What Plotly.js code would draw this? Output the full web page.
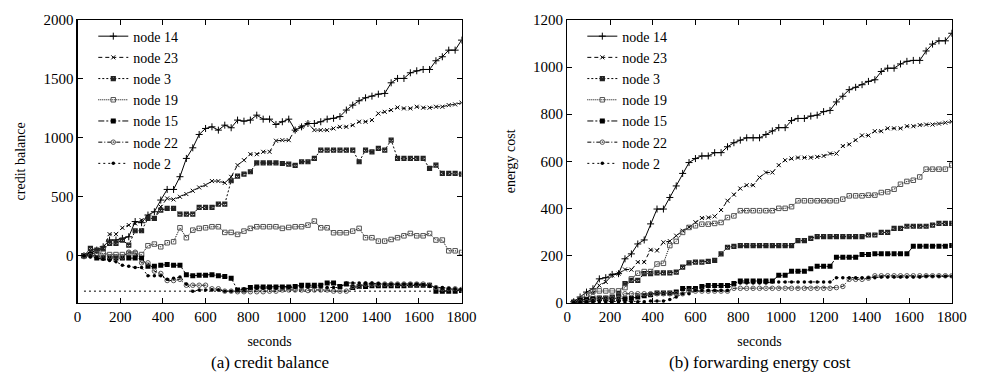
<!DOCTYPE html>
<html><head><meta charset="utf-8">
<script src="https://cdn.plot.ly/plotly-3.0.1.min.js"></script>
<style>html,body{margin:0;padding:0;background:#fff}#chart{width:982px;height:374px}
#chart text{font-family:"Liberation Serif" !important;}</style>
</head><body><div id="chart"></div>
<script>
// sample times (seconds)
const seconds = [30,60,90,120,150,180,210,240,270,300,330,360,390,420,450,480,510,540,570,600,630,660,690,720,750,780,810,840,870,900,930,960,990,1020,1050,1080,1110,1140,1170,1200,1230,1260,1290,1320,1350,1380,1410,1440,1470,1500,1530,1560,1590,1620,1650,1680,1710,1740,1770,1800];
const nodeNames = ["node 14","node 23","node 3","node 19","node 15","node 22","node 2"];

// (a) credit balance
const credit14 = [0,20,48,76,133,133,147,161,290,280,345,373,472,562,562,670,825,915,1028,1079,1093,1065,1107,1085,1150,1141,1150,1192,1158,1158,1113,1136,1158,1065,1093,1121,1121,1136,1158,1165,1180,1235,1277,1314,1339,1353,1370,1376,1466,1503,1503,1551,1568,1579,1579,1653,1687,1743,1743,1828];
const credit23 = [0,30,40,60,183,183,237,260,274,302,330,316,415,486,477,500,523,551,579,599,633,633,618,669,768,810,861,861,881,881,975,980,980,1065,1093,1121,1065,1065,1065,1079,1093,1093,1107,1136,1136,1150,1206,1220,1235,1257,1249,1249,1263,1255,1255,1263,1263,1277,1283,1297];
const credit3 = [0,62,48,62,105,105,133,90,212,212,316,316,387,401,401,353,353,353,410,410,410,438,438,636,675,692,712,788,788,788,788,782,777,766,797,797,825,895,895,895,895,895,895,797,895,881,910,895,980,825,825,825,825,825,740,768,698,698,698,692];
const credit19 = [0,10,20,20,10,10,10,20,20,10,85,99,76,110,119,237,153,217,232,237,246,246,198,198,181,209,232,246,246,246,246,232,240,246,246,260,294,237,237,195,195,195,209,232,153,153,124,124,138,153,169,189,169,169,189,133,133,42,42,28];
const credit15 = [0,10,-20,-20,-20,-20,-20,-20,-20,-20,-90,-90,-80,-75,-80,-80,-160,-170,-165,-165,-160,-170,-175,-190,-290,-290,-270,-265,-265,-265,-265,-265,-265,-260,-250,-250,-250,-250,-230,-230,-260,-240,-270,-260,-260,-255,-255,-255,-255,-255,-255,-250,-250,-250,-250,-300,-300,-300,-300,-295];
const credit22 = [0,0,0,-10,-10,-10,-10,30,30,-60,-60,-130,-150,-210,-210,-200,-250,-250,-250,-250,-280,-280,-300,-300,-305,-305,-305,-305,-305,-300,-300,-290,-290,-290,-290,-295,-290,-290,-290,-300,-300,-300,-260,-260,-240,-240,-240,-240,-240,-240,-240,-240,-240,-240,-250,-270,-280,-280,-280,-285];
const credit2 = [0,-10,-20,-30,-40,-50,-80,-90,-100,-100,-170,-170,-170,-200,-190,-180,-240,-300,-290,-290,-290,-290,-300,-300,-290,-280,-275,-275,-275,-275,-275,-270,-270,-270,-265,-265,-265,-265,-270,-270,-270,-230,-230,-230,-230,-230,-235,-240,-240,-240,-240,-240,-240,-245,-260,-270,-270,-275,-280,-285];
const thresholdX = [30,1800];
const thresholdY = [-300,-300];

// (b) forwarding energy cost
const energy14 = [5,25,46,60,102,107,121,124,187,208,250,267,335,398,398,447,496,549,595,612,623,623,637,637,662,679,690,700,700,700,714,729,743,743,773,782,782,792,796,811,816,852,876,904,914,925,939,946,981,995,995,1013,1024,1028,1028,1068,1097,1111,1111,1143];
const energy23 = [0,10,20,40,74,89,117,124,142,141,173,173,225,222,257,262,285,306,321,342,360,362,367,394,433,459,485,499,499,532,553,553,584,605,612,616,616,616,619,623,633,633,665,672,690,710,710,728,728,740,740,740,749,749,754,756,756,760,764,768];
const energy3 = [0,5,10,15,20,20,25,40,82,96,96,124,124,127,127,127,131,152,170,173,173,176,180,208,236,240,243,243,243,243,243,243,243,243,243,264,264,274,281,281,281,281,281,281,281,281,288,288,299,299,316,316,325,325,325,325,330,337,337,337];
const energy19 = [0,15,30,49,51,51,51,51,65,102,126,133,133,165,168,243,261,299,320,327,334,334,337,341,362,369,391,391,391,391,391,391,401,401,408,433,433,433,433,433,433,433,440,454,454,454,457,457,468,471,482,503,515,520,534,567,567,567,567,584];
const energy15 = [4,11,14,18,18,18,18,18,18,20,25,30,35,42,42,42,46,61,61,61,70,74,74,74,74,82,93,93,93,93,93,93,117,117,134,134,134,145,155,155,155,194,194,194,194,205,205,208,208,208,208,208,208,240,240,240,240,240,240,243];
const energy22 = [0,3,5,10,20,20,20,20,39,39,39,39,39,39,39,39,39,39,50,50,50,50,50,50,50,62,62,62,62,62,62,62,62,62,62,62,62,62,62,62,62,65,70,100,100,100,105,115,115,115,115,115,115,115,115,115,115,115,115,115];
const energy2 = [2,5,5,5,5,5,5,5,5,5,5,5,8,8,8,15,25,39,39,53,53,53,53,53,53,85,85,85,85,85,85,89,89,89,89,89,89,89,89,89,89,107,107,107,107,107,107,107,110,110,110,110,110,110,110,113,113,113,113,113];

const styles = [
  {dash:"solid", symbol:"cross-thin", size:5, color:"#000", lw:1},
  {dash:"4px,3px", symbol:"x-thin", size:4, color:"#000", lw:1},
  {dash:"2px,2px", symbol:"square-x-open", size:4, color:"#222", lw:1.2},
  {dash:"1px,1px", symbol:"square-open", size:4.5, color:"#555", lw:1},
  {dash:"6px,2px,2px,2px", symbol:"square", size:5, color:"#000", lw:0},
  {dash:"4px,2px,1px,2px", symbol:"circle-open-dot", size:4.5, color:"#555", lw:1},
  {dash:"2px,3px", symbol:"circle", size:3.5, color:"#000", lw:0}
];
const creditSeries = [credit14,credit23,credit3,credit19,credit15,credit22,credit2];
const energySeries = [energy14,energy23,energy3,energy19,energy15,energy22,energy2];

const FONT = "Liberation Serif";
function fnt(size){ return {family:FONT, size:size, color:"#000"}; }
const traces = [];
creditSeries.forEach((ys,i)=>{
  const s = styles[i];
  traces.push({x:seconds, y:ys, name:nodeNames[i], type:"scatter", mode:"lines+markers",
    xaxis:"x", yaxis:"y", legend:"legend",
    line:{color:"#000", width:1, dash:s.dash},
    marker:{symbol:s.symbol, size:s.size, color:s.color, line:{color:s.color, width:s.lw}}});
});
traces.push({x:thresholdX, y:thresholdY, type:"scatter", mode:"lines", showlegend:false,
  xaxis:"x", yaxis:"y", line:{color:"#000", width:1, dash:"2px,3px"}, hoverinfo:"skip"});
energySeries.forEach((ys,i)=>{
  const s = styles[i];
  traces.push({x:seconds, y:ys, name:nodeNames[i], type:"scatter", mode:"lines+markers",
    xaxis:"x2", yaxis:"y2", legend:"legend2",
    line:{color:"#000", width:1, dash:s.dash},
    marker:{symbol:s.symbol, size:s.size, color:s.color, line:{color:s.color, width:s.lw}}});
});

function axis(extra){
  return Object.assign({showline:true, linecolor:"#000", linewidth:1.2, mirror:"ticks", ticks:"inside",
    ticklen:5, tickcolor:"#000", showgrid:false, zeroline:false, tickfont:{size:15, color:"#000"}}, extra);
}
function legendBox(x){
  return {font:fnt(14), bgcolor:"rgba(0,0,0,0)", borderwidth:0, tracegroupgap:0,
    xanchor:"left", yanchor:"top", itemwidth:30, x:x, y:0.945};
}

const layout = {
  width:982, height:374, margin:{l:0,r:0,t:0,b:0}, paper_bgcolor:"#fff", plot_bgcolor:"#fff",
  font:fnt(14),
  xaxis:axis({domain:[0.079,0.470], range:[0,1800], dtick:200, tick0:0, anchor:"y",
    title:{text:"seconds", font:{size:14}, standoff:12}}),
  yaxis:axis({domain:[0.19,0.947], range:[-400,2000], dtick:500, tick0:0, anchor:"x",
    title:{text:"credit balance", font:{size:14}, standoff:14}}),
  xaxis2:axis({domain:[0.5777,0.9692], range:[0,1800], dtick:200, tick0:0, anchor:"y2",
    title:{text:"seconds", font:{size:14}, standoff:12}}),
  yaxis2:axis({domain:[0.19,0.947], range:[0,1200], dtick:200, tick0:0, anchor:"x2",
    title:{text:"energy cost", font:{size:14}, standoff:14}}),
  legend:legendBox(0.095),
  legend2:legendBox(0.593),
  annotations:[
    {text:"(a) credit balance", xref:"paper", yref:"paper", x:0.2745, y:0.0, xanchor:"center", yanchor:"bottom",
     showarrow:false, font:fnt(17)},
    {text:"(b) forwarding energy cost", xref:"paper", yref:"paper", x:0.7735, y:0.0, xanchor:"center", yanchor:"bottom",
     showarrow:false, font:fnt(17)}
  ],
  showlegend:true
};
Plotly.newPlot("chart", traces, layout, {displayModeBar:false, staticPlot:true});
</script></body></html>
